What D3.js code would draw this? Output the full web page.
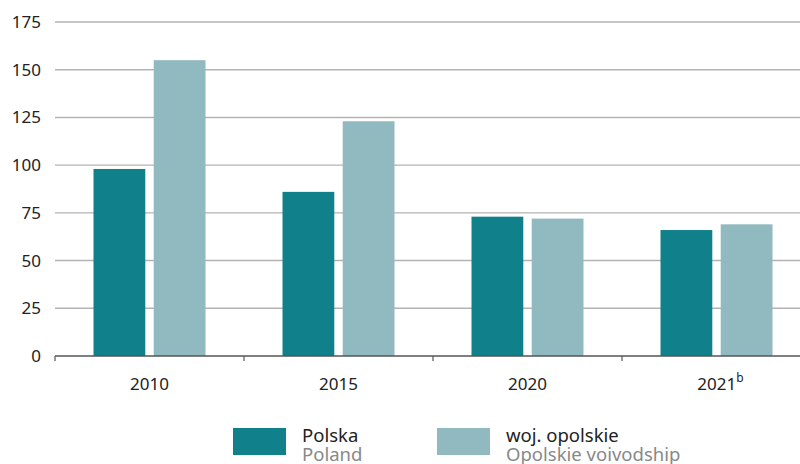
<!DOCTYPE html>
<html><head><meta charset="utf-8">
<script src="https://cdn.jsdelivr.net/npm/d3@7"></script>
<style>body{margin:0;background:#fff}svg{display:block}text{font-family:"Noto Sans","Open Sans",sans-serif}</style>
</head><body><svg id="c" width="800" height="464"></svg>
<script>
const categories = ["2010","2015","2020","2021"];
const seriesNames = ["Polska","woj. opolskie"];
const seriesNamesEn = ["Poland","Opolskie voivodship"];
const polska = [98, 86, 73, 66];
const opolskie = [155, 123, 72, 69];
const yTicks = [0,25,50,75,100,125,150,175];
const colors = ["#10808a","#91bac0"];

(function(){
const svg = d3.select("#c");
const mLeft = 55, mRight = 811, mTop = 22, mBottom = 356;
const y = d3.scaleLinear().domain([0,175]).range([mBottom, mTop]);
const x = d3.scaleBand().domain(categories).range([mLeft, mRight]).paddingInner(0).paddingOuter(0);
const inner = d3.scaleBand().domain(seriesNames).range([38.5, x.bandwidth()-38.5]).paddingInner(0.14);

svg.append("g").selectAll("line").data(yTicks.filter(d=>d>0)).join("line")
  .attr("x1", mLeft).attr("x2", 800).attr("y1", d=>y(d)).attr("y2", d=>y(d))
  .attr("stroke","#b3b3b3").attr("stroke-width",1.4);

svg.append("g").selectAll("text").data(yTicks).join("text")
  .attr("x", 41).attr("y", d=>y(d)+6).attr("text-anchor","end")
  .attr("font-size",17).attr("fill","#222").text(d=>d);

const data = categories.map((c,i)=>({c, vals:[polska[i], opolskie[i]]}));
const g = svg.append("g");
data.forEach(d=>{
  d.vals.forEach((v,j)=>{
    g.append("rect").attr("x", x(d.c)+inner(seriesNames[j])).attr("width", inner.bandwidth())
      .attr("y", y(v)).attr("height", y(0)-y(v)).attr("fill", colors[j]);
  });
});

const xAxis = svg.append("g").attr("transform",`translate(0,${mBottom})`);
xAxis.append("line").attr("x1",mLeft).attr("x2",800).attr("stroke","#555").attr("stroke-width",1.3);
const bounds = categories.map(c=>x(c));
xAxis.selectAll("line.t").data(bounds).join("line").attr("class","t")
  .attr("x1",d=>d).attr("x2",d=>d).attr("y1",0).attr("y2",5).attr("stroke","#555").attr("stroke-width",1.2);
const xl = svg.append("g").selectAll("text").data(categories).join("text")
  .attr("x", d=>x(d)+x.bandwidth()/2 + (d==="2021"?4:0)).attr("y", 390).attr("text-anchor","middle")
  .attr("font-size",17).attr("fill","#222");
xl.each(function(d){
  const t = d3.select(this);
  t.append("tspan").text(d);
  if (d==="2021") t.append("tspan").attr("dy",-8).attr("font-size",12).text("b");
});

const lx = [233, 437];
seriesNames.forEach((s,i)=>{
  svg.append("rect").attr("x",lx[i]).attr("y",428).attr("width",53).attr("height",27).attr("fill",colors[i]);
  svg.append("text").attr("x",lx[i]+69).attr("y",442).attr("font-size",18.5).attr("fill","#222").text(s);
  svg.append("text").attr("x",lx[i]+69).attr("y",461).attr("font-size",18.5).attr("fill","#888").text(seriesNamesEn[i]);
});
})();
</script></body></html>
